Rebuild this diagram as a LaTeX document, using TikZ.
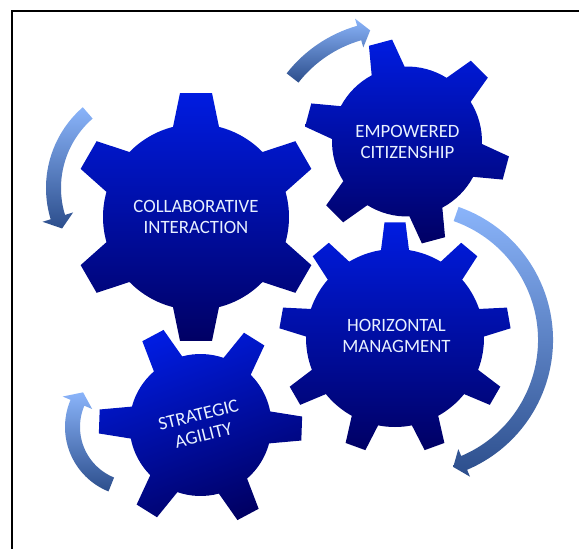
\documentclass[tikz,border=0pt]{standalone}
\usepackage{fontspec}
\newfontfamily\gearfont{Carlito}
\usetikzlibrary{calc}

\definecolor{gearTop}{RGB}{0,28,225}
\definecolor{gearBottom}{RGB}{0,0,100}
\definecolor{arrowLight}{RGB}{138,180,250}
\definecolor{arrowDark}{RGB}{44,78,140}
\definecolor{labelText}{RGB}{232,241,255}

\tikzset{
  gearbody/.style={top color=gearTop, bottom color=gearBottom},
  turnarrow/.style={top color=arrowLight, bottom color=arrowDark},
  gearlabel/.style={text=labelText, font=\gearfont\fontsize{18.8}{21}\selectfont,
    align=center, inner sep=0pt},
  frameline/.style={line width=2pt, line join=miter},
}

% #1,#2 centre; #3 number of teeth; #4 angle of first tooth;
% #5 root radius; #6 tip radius; #7 half width at root; #8 half width at tip; #9 style
\newcommand\drawgear[9]{%
  \pgfmathsetmacro\gearB{asin(#7/#5)}%
  \pgfmathsetmacro\gearT{asin(#8/#6)}%
  \pgfmathsetmacro\gearP{360/#3}%
  \path[#9, shift={(#1,#2)}] ({-(#4)+\gearB}:#5)
    \foreach \k [evaluate=\k as \a using #4+(\k-1)*\gearP] in {1,...,#3} {
      -- ({-(\a)+\gearB}:#5) -- ({-(\a)+\gearT}:#6) -- ({-(\a)-\gearT}:#6)
      -- ({-(\a)-\gearB}:#5)
      arc[start angle={-(\a)-\gearB}, end angle={-(\a)-\gearP+\gearB}, radius=#5]
    } -- cycle;
}

% curved block arrow: #1,#2 centre; #3 radius; #4 tail angle; #5 tip angle;
% #6 shaft width; #7 head width; #8 head length in degrees; #9 style
\newcommand\bentarrow[9]{%
  \pgfmathsetmacro\arS{ifthenelse(#5>#4,1,-1)}%
  \pgfmathsetmacro\arB{#5-\arS*#8}%
  \pgfmathsetmacro\arO{#3+#6/2}%
  \pgfmathsetmacro\arI{#3-#6/2}%
  \pgfmathsetmacro\arHo{#3+#7/2}%
  \pgfmathsetmacro\arHi{#3-#7/2}%
  \path[#9, shift={(#1,#2)}] ({-(#4)}:\arO)
    arc[start angle={-(#4)}, end angle={-(\arB)}, radius=\arO]
    -- ({-(\arB)}:\arHo) -- ({-(#5)}:#3) -- ({-(\arB)}:\arHi) -- ({-(\arB)}:\arI)
    arc[start angle={-(\arB)}, end angle={-(#4)}, radius=\arI] -- cycle;
}

\begin{document}
\begin{tikzpicture}[x=1pt, y=-1pt]
  \useasboundingbox (0,0) rectangle (579,549);

  % frame
  \draw[frameline] (12,549) -- (12,10.5) -- (579,10.5);

  % gears
  \drawgear{196}{217}{6}{90}{93}{125}{23}{16}{gearbody}
  \drawgear{407}{141.5}{6}{-15}{75}{103}{17}{12}{gearbody}
  \drawgear{395}{338}{9}{90}{89}{116}{14}{10.5}{gearbody}
  \drawgear{200.5}{425}{6}{-2}{71}{102}{16}{12}{gearbody, shading angle=20}

  % turning arrows
  \bentarrow{153}{188}{99.5}{131}{204}{15}{32}{7}{turnarrow}
  \bentarrow{395}{158}{130}{142}{101}{15}{30}{5}{turnarrow}
  \bentarrow{412}{340}{133.5}{70.7}{-72}{15}{30}{5}{turnarrow}
  \bentarrow{134.5}{427}{62}{248}{146}{15}{32}{11}{turnarrow}

  % labels
  \node[gearlabel] (collab) at (196,216.5) {COLLABORATIVE\\INTERACTION};
  \node[gearlabel] (empower) at (407.5,141.7) {EMPOWERED\\CITIZENSHIP};
  \node[gearlabel] (horiz) at (396.5,335.5) {HORIZONTAL\\MANAGMENT};
  \node[gearlabel, rotate=14] (agile) at (201,425) {STRATEGIC\\AGILITY};
\end{tikzpicture}
\end{document}
